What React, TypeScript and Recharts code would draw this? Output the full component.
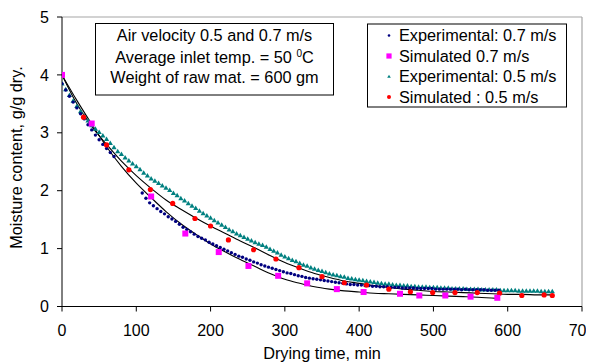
import React from "react";
import {
  ComposedChart,
  Line,
  Scatter,
  XAxis,
  YAxis,
  ReferenceLine,
} from "recharts";

// ---- Data ----
const xTicks = [0, 100, 200, 300, 400, 500, 600, 700];
const yTicks = [0, 1, 2, 3, 4, 5];

// Experimental: 0.7 m/s
const exp07Time = [
  0, 5, 10, 15, 20, 25, 30, 35, 40, 45, 50, 55, 60, 65, 70,
  108, 113, 118, 123, 128, 133, 138, 143, 148, 153, 158, 163, 168, 173, 178,
  183, 188, 193, 198, 203, 208, 213, 218, 223, 228, 233, 238, 243, 248, 253,
  258, 263, 268, 273, 278, 283, 288, 293, 298, 303, 308, 313, 318, 323, 328,
  333, 338, 343, 348, 353, 358, 363, 368, 373, 378, 383, 388, 393, 398, 403,
  408, 413, 418, 423, 428, 433, 438, 443, 448, 453, 458, 463, 468, 473, 478,
  483, 488, 493, 498, 503, 508, 513, 518, 523, 528, 533, 538, 543, 548, 553,
  558, 563, 568, 573, 578, 583, 588,
];
const exp07Moist = [
  3.85, 3.74, 3.63, 3.53, 3.43, 3.33, 3.24, 3.14, 3.05, 2.96, 2.88, 2.8, 2.73, 2.66, 2.59,
  1.96, 1.87, 1.79, 1.74, 1.69, 1.64, 1.6, 1.55, 1.51, 1.47, 1.42, 1.37, 1.33, 1.29, 1.25,
  1.21, 1.18, 1.15, 1.11, 1.08, 1.05, 1.02, 0.99, 0.96, 0.93, 0.9, 0.87, 0.85, 0.82, 0.8,
  0.77, 0.75, 0.72, 0.7, 0.68, 0.66, 0.64, 0.62, 0.6, 0.58, 0.57, 0.55, 0.53, 0.52, 0.5,
  0.49, 0.48, 0.47, 0.46, 0.45, 0.44, 0.43, 0.42, 0.41, 0.4, 0.39, 0.38, 0.38, 0.37, 0.37,
  0.36, 0.36, 0.35, 0.35, 0.34, 0.34, 0.34, 0.33, 0.33, 0.33, 0.32, 0.32, 0.32, 0.32, 0.31,
  0.31, 0.31, 0.31, 0.31, 0.3, 0.3, 0.3, 0.3, 0.3, 0.3, 0.3, 0.29, 0.3, 0.29, 0.29,
  0.29, 0.29, 0.29, 0.28, 0.28, 0.28, 0.28,
];

// Experimental: 0.5 m/s
const exp05Time = [
  0, 5, 10, 15, 20, 25, 30, 35, 40, 45, 50, 55, 60, 65, 70, 75, 80, 85, 90, 95,
  100, 105, 110, 115, 120, 125, 130, 135, 140, 145, 150, 155, 160, 165, 170, 175, 180, 185, 190, 195,
  200, 205, 210, 215, 220, 225, 230, 235, 240, 245, 250, 255, 260, 265, 270, 275, 280, 285, 290, 295,
  300, 305, 310, 315, 320, 325, 330, 335, 340, 345, 350, 355, 360, 365, 370, 375, 380, 385, 390, 395,
  400, 405, 410, 415, 420, 425, 430, 435, 440, 445, 450, 455, 460, 465, 470, 475, 480, 485, 490, 495,
  500, 505, 510, 515, 520, 525, 530, 535, 540, 545, 550, 555, 560, 565, 570, 575, 580, 585, 590, 595,
  600, 605, 610, 615, 620, 625, 630, 635, 640, 645, 650, 655, 660,
];
const exp05Moist = [
  3.85, 3.75, 3.65, 3.55, 3.46, 3.37, 3.29, 3.21, 3.13, 3.07, 3.01, 2.95, 2.89, 2.82, 2.75, 2.68, 2.63, 2.57, 2.52, 2.47,
  2.42, 2.37, 2.31, 2.26, 2.21, 2.17, 2.13, 2.09, 2.05, 2.01, 1.96, 1.92, 1.87, 1.83, 1.78, 1.74, 1.7, 1.65, 1.61, 1.57,
  1.53, 1.49, 1.45, 1.41, 1.37, 1.33, 1.3, 1.26, 1.23, 1.2, 1.17, 1.14, 1.11, 1.08, 1.06, 1.03, 0.99, 0.96, 0.93, 0.89,
  0.86, 0.83, 0.8, 0.78, 0.75, 0.72, 0.7, 0.67, 0.65, 0.63, 0.61, 0.59, 0.57, 0.55, 0.54, 0.52, 0.51, 0.49, 0.48, 0.47,
  0.46, 0.45, 0.44, 0.43, 0.42, 0.41, 0.4, 0.39, 0.39, 0.38, 0.37, 0.37, 0.36, 0.36, 0.35, 0.35, 0.34, 0.34, 0.34, 0.33,
  0.33, 0.33, 0.32, 0.32, 0.32, 0.31, 0.31, 0.31, 0.31, 0.3, 0.3, 0.3, 0.3, 0.29, 0.29, 0.29, 0.29, 0.29, 0.28, 0.28,
  0.28, 0.28, 0.28, 0.27, 0.27, 0.27, 0.27, 0.27, 0.27, 0.26, 0.26, 0.26, 0.26,
];

// Simulated 0.7 m/s
const sim07Time = [0, 40, 120, 166, 211, 251, 291, 330, 370, 406, 455, 481, 516, 550, 586];
const sim07Moist = [4.0, 3.16, 1.9, 1.26, 0.94, 0.7, 0.53, 0.4, 0.3, 0.25, 0.22, 0.19, 0.19, 0.17, 0.15];

// Simulated : 0.5 m/s
const sim05Time = [0, 29, 60, 90, 119, 149, 179, 200, 224, 258, 288, 319, 350, 380, 410, 440, 469, 499, 529, 559, 589, 619, 649, 660];
const sim05Moist = [4.0, 3.27, 2.79, 2.36, 2.02, 1.78, 1.52, 1.39, 1.15, 0.98, 0.82, 0.67, 0.515, 0.41, 0.37, 0.3, 0.255, 0.24, 0.24, 0.24, 0.23, 0.19, 0.2, 0.19];

// Model curves (black lines)
const curve07Time = [0, 20, 40, 60, 80, 100, 120, 140, 160, 180, 200, 220, 240, 260, 280, 300, 320, 340, 360, 380, 400, 420, 440, 460, 480, 500, 520, 540, 560, 586];
const curve07Moist = [4.0, 3.56, 3.15, 2.76, 2.42, 2.13, 1.88, 1.64, 1.43, 1.25, 1.08, 0.94, 0.81, 0.69, 0.57, 0.47, 0.4, 0.34, 0.3, 0.27, 0.25, 0.23, 0.22, 0.21, 0.2, 0.19, 0.18, 0.17, 0.16, 0.14];
const curve05Time = [0, 20, 40, 60, 80, 100, 120, 140, 160, 180, 200, 220, 240, 260, 280, 300, 320, 340, 360, 380, 400, 420, 440, 460, 480, 500, 520, 540, 560, 580, 600, 620, 640, 660];
const curve05Moist = [4.0, 3.5, 3.11, 2.8, 2.51, 2.26, 2.04, 1.84, 1.68, 1.53, 1.39, 1.26, 1.13, 1.01, 0.88, 0.76, 0.66, 0.57, 0.5, 0.44, 0.4, 0.36, 0.33, 0.3, 0.28, 0.26, 0.25, 0.24, 0.23, 0.22, 0.21, 0.21, 0.2, 0.2];

const legendLabels = [
  "Experimental: 0.7 m/s",
  "Simulated 0.7 m/s",
  "Experimental: 0.5 m/s",
  "Simulated : 0.5 m/s",
];
const noteLines = [
  "Air velocity 0.5 and 0.7 m/s",
  "Average inlet temp. = 50 ",
  "Weight of raw mat. = 600 gm",
];
const xTitle = "Drying time, min";
const yTitle = "Moisture content, g/g dry.";

const zip = (ts: number[], vs: number[]) => ts.map((t, i) => ({ t, v: vs[i] }));

const exp07 = zip(exp07Time, exp07Moist);
const exp05 = zip(exp05Time, exp05Moist);
const sim07 = zip(sim07Time, sim07Moist);
const sim05 = zip(sim05Time, sim05Moist);
const curve07 = zip(curve07Time, curve07Moist);
const curve05 = zip(curve05Time, curve05Moist);

const FONT = "'Liberation Sans', Arial, Helvetica, sans-serif";
const NAVY = "#000080";
const TEAL = "#008080";
const MAGENTA = "#FF00FF";
const RED = "#FF0000";
const FS_TICK = 16;
const FS_TEXT = 16.3;

const NavyDot = (p: any) => <circle cx={p.cx} cy={p.cy} r={p.r ?? 1.7} fill={NAVY} />;
const TealTri = (p: any) => {
  const s = p.s ?? 2.6;
  return (
    <polygon
      points={`${p.cx},${p.cy - s} ${p.cx + s},${p.cy + s * 0.73} ${p.cx - s},${p.cy + s * 0.73}`}
      fill={TEAL}
    />
  );
};
const MagSq = (p: any) => {
  const h = p.h ?? 3;
  return <rect x={p.cx - h} y={p.cy - h} width={2 * h} height={2 * h} fill={MAGENTA} />;
};
const RedDot = (p: any) => <circle cx={p.cx} cy={p.cy} r={p.r ?? 2.6} fill={RED} />;

export default function App() {
  const W = 586;
  const H = 355;
  return (
    <div style={{ position: "relative", width: W, height: H, fontFamily: FONT }}>
      <ComposedChart
        width={W}
        height={H}
        margin={{ top: 9, right: 12, bottom: 0, left: 0 }}
      >
        <XAxis
          dataKey="t"
          type="number"
          domain={[0, 700]}
          ticks={xTicks}
          allowDataOverflow
          height={56.5}
          tickSize={5}
          tickMargin={13.5}
          axisLine={{ stroke: "#000" }}
          tickLine={{ stroke: "#000" }}
          tick={{ fill: "#000", fontSize: FS_TICK, fontFamily: FONT }}
          label={{
            content: (props: any) => {
              const vb = props.viewBox || { x: 54, y: 298.5, width: 520 };
              return (
                <text
                  x={vb.x + vb.width / 2}
                  y={vb.y + 52.5}
                  textAnchor="middle"
                  fontSize={FS_TEXT}
                  fontFamily={FONT}
                  fill="#000"
                >
                  {xTitle}
                </text>
              );
            },
          }}
        />
        <YAxis
          dataKey="v"
          type="number"
          domain={[0, 5]}
          ticks={yTicks}
          allowDataOverflow
          width={54}
          tickSize={5}
          tickMargin={8}
          axisLine={{ stroke: "#000" }}
          tickLine={{ stroke: "#000" }}
          tick={{ fill: "#000", fontSize: FS_TICK, fontFamily: FONT }}
          label={{
            content: () => {
              const cx = 8;
              const cy = 149.5;
              return (
                <text
                  x={cx}
                  y={cy}
                  transform={`rotate(-90, ${cx}, ${cy})`}
                  textAnchor="middle"
                  dominantBaseline="central"
                  fontSize={FS_TEXT}
                  fontFamily={FONT}
                  fill="#000"
                >
                  {yTitle}
                </text>
              );
            },
          }}
        />
        <ReferenceLine y={5} stroke="#a6a6a6" strokeWidth={1.2} />
        <ReferenceLine x={700} stroke="#a6a6a6" strokeWidth={1.2} />
        <Line
          data={curve07}
          dataKey="v"
          type="monotone"
          stroke="#000"
          strokeWidth={1.1}
          dot={false}
          activeDot={false}
          isAnimationActive={false}
        />
        <Line
          data={curve05}
          dataKey="v"
          type="monotone"
          stroke="#000"
          strokeWidth={1.1}
          dot={false}
          activeDot={false}
          isAnimationActive={false}
        />
        <Scatter data={exp05} dataKey="v" shape={TealTri} isAnimationActive={false} />
        <Scatter data={exp07} dataKey="v" shape={NavyDot} isAnimationActive={false} />
        <Scatter data={sim05} dataKey="v" shape={RedDot} isAnimationActive={false} />
        <Scatter data={sim07} dataKey="v" shape={MagSq} isAnimationActive={false} />
      </ComposedChart>
      <svg
        width={W}
        height={H}
        style={{ position: "absolute", left: 0, top: 0, pointerEvents: "none" }}
      >
        {/* annotation box */}
        <rect x={87.5} y={15.5} width={238} height={71.5} fill="#fff" stroke="#000" strokeWidth={1} />
        <text x={206.5} y={32.5} textAnchor="middle" fontSize={FS_TEXT} fontFamily={FONT} fill="#000">
          {noteLines[0]}
        </text>
        <text x={206.5} y={54.5} textAnchor="middle" fontSize={FS_TEXT} fontFamily={FONT} fill="#000">
          {noteLines[1]}
          <tspan dy={-6} fontSize={10}>0</tspan>
          <tspan dy={6}>C</tspan>
        </text>
        <text x={206.5} y={74.5} textAnchor="middle" fontSize={FS_TEXT} fontFamily={FONT} fill="#000">
          {noteLines[2]}
        </text>
        {/* legend box */}
        <rect x={359.5} y={16} width={199} height={83} fill="#fff" stroke="#000" strokeWidth={1} />
        {legendLabels.map((lab, i) => {
          const cy = 27.5 + i * 20.5;
          return (
            <g key={lab}>
              {i === 0 && <NavyDot cx={381} cy={cy} r={1.3} />}
              {i === 1 && <MagSq cx={381} cy={cy} h={2.6} />}
              {i === 2 && <TealTri cx={381} cy={cy} s={1.8} />}
              {i === 3 && <RedDot cx={381} cy={cy} r={2} />}
              <text x={391} y={cy + 5.8} fontSize={FS_TEXT} fontFamily={FONT} fill="#000">
                {lab}
              </text>
            </g>
          );
        })}
      </svg>
    </div>
  );
}
